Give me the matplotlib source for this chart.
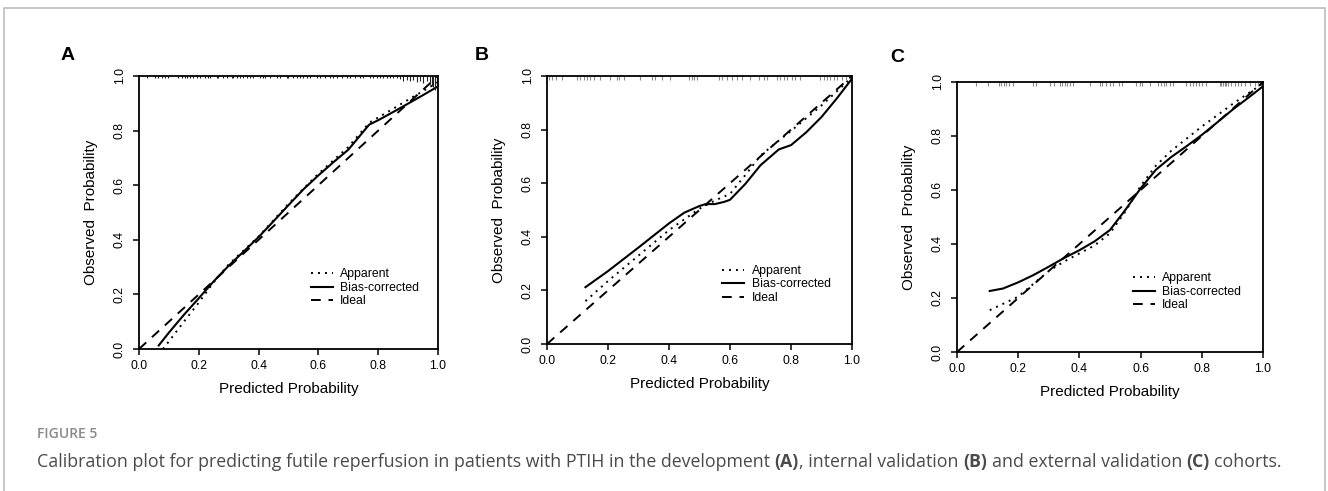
import matplotlib
matplotlib.use("Agg")
import matplotlib.pyplot as plt
from matplotlib.lines import Line2D
from matplotlib.patches import Rectangle

# ---- data ----
panel_names = ["A", "B", "C"]
ideal_x = [0.0, 1.0]
ideal_y = [0.0, 1.0]

# Panel A (development)
a_bias_x = [0.066, 0.1, 0.15, 0.2, 0.25, 0.3, 0.35, 0.4, 0.45, 0.5, 0.55, 0.6, 0.65, 0.7, 0.77, 0.8, 0.85, 0.9, 0.95, 1.0]
a_bias_y = [0.013, 0.06, 0.125, 0.186, 0.248, 0.305, 0.357, 0.41, 0.468, 0.527, 0.585, 0.636, 0.684, 0.73, 0.822, 0.838, 0.868, 0.899, 0.93, 0.962]
a_app_x = [0.08, 0.1, 0.15, 0.2, 0.25, 0.3, 0.4, 0.5, 0.6, 0.7, 0.77, 0.8, 0.85, 0.9, 0.95, 1.0]
a_app_y = [0.0, 0.028, 0.1, 0.17, 0.245, 0.31, 0.412, 0.532, 0.642, 0.74, 0.829, 0.848, 0.88, 0.913, 0.945, 0.978]
a_rug_x = [0.026, 0.054, 0.065, 0.076, 0.087, 0.098, 0.132, 0.143, 0.154, 0.159, 0.171, 0.182, 0.193,
           0.204, 0.221, 0.232, 0.237, 0.26, 0.265, 0.282, 0.293, 0.31, 0.315, 0.327, 0.338, 0.349,
           0.36, 0.371, 0.382, 0.405, 0.416, 0.421, 0.438, 0.46, 0.472, 0.494, 0.499, 0.516, 0.527,
           0.538, 0.55, 0.561, 0.572, 0.594, 0.605, 0.622, 0.639, 0.65, 0.661, 0.678, 0.695, 0.706,
           0.722, 0.739, 0.75, 0.773, 0.784, 0.795, 0.806, 0.817, 0.828, 0.839, 0.851, 0.862, 0.873,
           0.884, 0.895, 0.906, 0.918, 0.929, 0.94, 0.951, 0.962, 0.973, 0.979, 0.984, 0.99, 0.996]
a_rug_h = [0.008] * 64 + [0.012, 0.018, 0.014, 0.02, 0.016, 0.022, 0.018, 0.025, 0.02, 0.028,
                          0.035, 0.04, 0.05, 0.045]

# Panel B (internal validation)
b_bias_x = [0.126, 0.2, 0.3, 0.4, 0.45, 0.5, 0.52, 0.55, 0.58, 0.6, 0.65, 0.7, 0.76, 0.8, 0.85, 0.9, 0.95, 1.0]
b_bias_y = [0.212, 0.272, 0.36, 0.45, 0.49, 0.515, 0.522, 0.522, 0.53, 0.538, 0.597, 0.667, 0.726, 0.742, 0.79, 0.847, 0.916, 0.99]
b_app_x = [0.126, 0.2, 0.3, 0.4, 0.5, 0.55, 0.6, 0.65, 0.7, 0.75, 0.8, 0.9, 1.0]
b_app_y = [0.16, 0.235, 0.33, 0.425, 0.505, 0.535, 0.56, 0.63, 0.703, 0.75, 0.795, 0.89, 0.995]
b_rug_x = [0.008, 0.016, 0.031, 0.049, 0.098, 0.109, 0.12, 0.131, 0.142, 0.153, 0.175, 0.205, 0.23,
           0.235, 0.251, 0.306, 0.344, 0.355, 0.377, 0.404, 0.464, 0.475, 0.483, 0.492, 0.563, 0.574,
           0.59, 0.607, 0.623, 0.639, 0.667, 0.694, 0.71, 0.721, 0.754, 0.765, 0.776, 0.787, 0.803,
           0.814, 0.831, 0.896, 0.907, 0.918, 0.929, 0.94, 0.951, 0.967, 0.98]

# Panel C (external validation)
c_bias_x = [0.107, 0.15, 0.2, 0.25, 0.3, 0.35, 0.4, 0.45, 0.5, 0.55, 0.6, 0.65, 0.7, 0.75, 0.8, 0.85, 0.9, 0.95, 1.0]
c_bias_y = [0.226, 0.235, 0.258, 0.285, 0.316, 0.348, 0.377, 0.41, 0.452, 0.526, 0.606, 0.675, 0.722, 0.762, 0.804, 0.85, 0.897, 0.94, 0.984]
c_app_x = [0.107, 0.2, 0.3, 0.35, 0.4, 0.45, 0.5, 0.55, 0.6, 0.65, 0.7, 0.8, 0.9, 1.0]
c_app_y = [0.155, 0.205, 0.3, 0.335, 0.365, 0.395, 0.44, 0.52, 0.615, 0.69, 0.745, 0.835, 0.918, 0.995]
c_rug_x = [0.063, 0.101, 0.137, 0.145, 0.153, 0.161, 0.17, 0.183, 0.248, 0.257, 0.303, 0.316, 0.336,
           0.344, 0.352, 0.359, 0.37, 0.379, 0.434, 0.466, 0.475, 0.486, 0.499, 0.51, 0.529, 0.54,
           0.586, 0.597, 0.606, 0.632, 0.657, 0.666, 0.675, 0.684, 0.695, 0.706, 0.749, 0.76, 0.771,
           0.78, 0.791, 0.8, 0.813, 0.858, 0.864, 0.869, 0.875, 0.88, 0.886, 0.896, 0.907, 0.918,
           0.929, 0.94, 0.956, 0.973, 0.984]

legend_labels = ["Apparent", "Bias-corrected", "Ideal"]
ticks = [0.0, 0.2, 0.4, 0.6, 0.8, 1.0]
caption_head = "FIGURE 5"
caption_parts = [
    ("Calibration plot for predicting futile reperfusion in patients with PTIH in the development ", "normal"),
    ("(A)", "bold"),
    (", internal validation ", "normal"),
    ("(B)", "bold"),
    (" and external validation ", "normal"),
    ("(C)", "bold"),
    (" cohorts.", "normal"),
]

W, H = 1328, 491
plt.rcParams["font.family"] = ["Liberation Sans", "DejaVu Sans"]
fig = plt.figure(figsize=(W / 100, H / 100), dpi=100)

# axes boxes in pixels: left, top, right, bottom
boxes = [(139, 76, 438, 349), (547, 76, 852, 344), (957, 82, 1263, 352)]
letter_pos = [(68, 55), (482, 56), (897, 57)]

panels = [
    (a_bias_x, a_bias_y, a_app_x, a_app_y, a_rug_x, a_rug_h, "#222222"),
    (b_bias_x, b_bias_y, b_app_x, b_app_y, b_rug_x, None, "#8c8c8c"),
    (c_bias_x, c_bias_y, c_app_x, c_app_y, c_rug_x, None, "#8c8c8c"),
]

dot_style = dict(color="black", lw=1.4, dashes=(1, 2.6))
dash_style = dict(color="black", lw=1.4, dashes=(5, 4))

for (l, t, r, b), (lx, ly), name, p in zip(boxes, letter_pos, panel_names, panels):
    bias_x, bias_y, app_x, app_y, rug_x, rug_h, rug_col = p
    ax = fig.add_axes([l / W, 1 - b / H, (r - l) / W, (b - t) / H])
    h_px = b - t

    ax.plot(ideal_x, ideal_y, **dash_style)
    ax.plot(app_x, app_y, **dot_style)
    ax.plot(bias_x, bias_y, color="black", lw=1.5)

    # rug of predicted probabilities along the top edge
    if rug_h is None:
        rug_h = [0.015] * len(rug_x)
    ax.vlines(rug_x, [1 - h for h in rug_h], 1.0, color=rug_col, lw=0.8)

    ax.set_xlim(0, 1)
    ax.set_ylim(0, 1)
    ax.set_xticks(ticks)
    ax.set_yticks(ticks)
    ax.set_xticklabels([f"{v:.1f}" for v in ticks])
    ax.set_yticklabels([f"{v:.1f}" for v in ticks])
    ax.tick_params(length=4.5, width=1.1, labelsize=8.8, pad=3.5)
    ax.tick_params(axis="y", labelrotation=90, pad=5)
    for lab in ax.get_yticklabels():
        lab.set_va("center")
    for s in ax.spines.values():
        s.set_linewidth(1.3)

    ax.set_xlabel("Predicted Probability", fontsize=11)
    ax.set_ylabel("Observed  Probability", fontsize=11)
    ax.xaxis.set_label_coords(0.5, -40 / h_px)
    ax.xaxis.label.set_va("center")
    ax.yaxis.set_label_coords(-48 / (r - l), 0.5)
    ax.yaxis.label.set_va("center")

    handles = [Line2D([], [], **dot_style),
               Line2D([], [], color="black", lw=1.5),
               Line2D([], [], **dash_style)]
    ax.legend(handles, legend_labels, loc="upper left", bbox_to_anchor=(0.575, 0.295),
              frameon=False, fontsize=8.8, handlelength=1.8, handletextpad=0.6,
              labelspacing=0.12, borderpad=0, borderaxespad=0)

    fig.text(lx / W, 1 - ly / H, name, fontsize=14, fontweight="bold",
             ha="center", va="center")

# outer grey frame
fig.patches.append(Rectangle((4 / W, -0.01), (1325 - 4) / W, 1.01 - 8 / H,
                             transform=fig.transFigure, fill=False,
                             edgecolor="#bdbdbd", lw=1.2))

# caption
fig.text(37 / W, 1 - 434 / H, caption_head, fontsize=10, color="#8a8a8a",
         family="Open Sans", fontweight="semibold", va="center")

renderer = fig.canvas.get_renderer()
x = 37 / W
for txt, weight in caption_parts:
    lead = len(txt) - len(txt.lstrip(" "))
    trail = len(txt) - len(txt.rstrip(" "))
    core = txt.strip(" ")
    sp = fig.text(0, 0, "a a", fontsize=12.8, family="Open Sans")
    sp2 = fig.text(0, 0, "aa", fontsize=12.8, family="Open Sans")
    space_w = (sp.get_window_extent(renderer).width - sp2.get_window_extent(renderer).width) / W
    sp.remove()
    sp2.remove()
    x += lead * space_w
    t = fig.text(x, 1 - 462 / H, core, fontsize=12.8, family="Open Sans",
                 fontweight=weight, color="#4a4a4a", va="center")
    x += t.get_window_extent(renderer).width / W + trail * space_w

fig.savefig("out.png", dpi=100)
